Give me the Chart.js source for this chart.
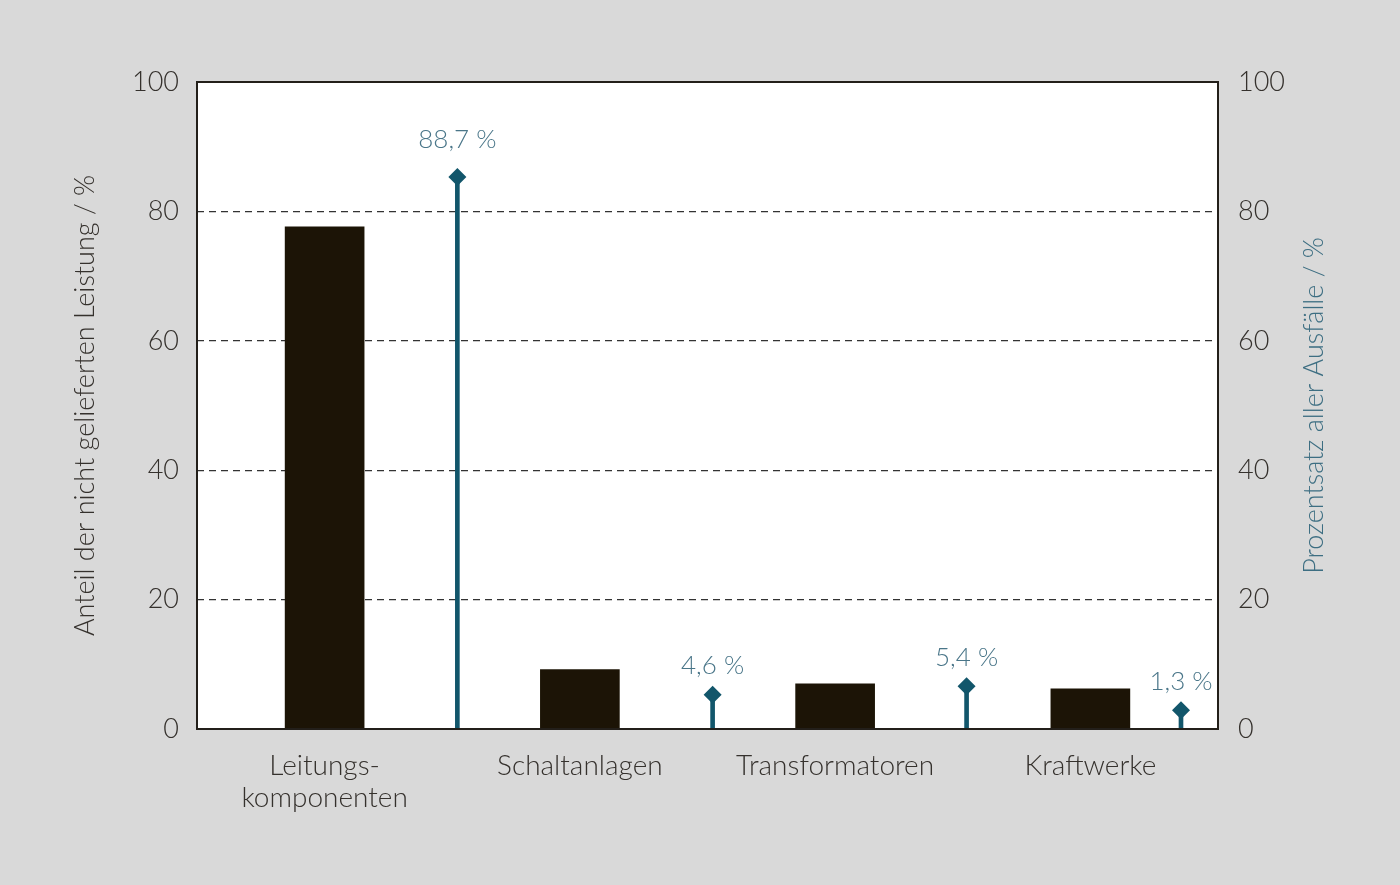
<!DOCTYPE html>
<html>
<head>
<meta charset="utf-8">
<script src="https://cdn.jsdelivr.net/npm/chart.js@4.4.1/dist/chart.umd.min.js"></script>
<style>
  html, body { margin: 0; padding: 0; background: #d9d9d9; }
  #wrap { width: 1400px; height: 885px; position: relative; }
</style>
</head>
<body>
<div id="wrap"><canvas id="c"></canvas></div>
<script>
// ---- data ----
const categories = [['Leitungs-', 'komponenten'], 'Schaltanlagen', 'Transformatoren', 'Kraftwerke'];
const powerShare = [77.6, 9.2, 7.0, 6.2];          // Anteil der nicht gelieferten Leistung / %
const outageShare = [85.3, 5.3, 6.6, 2.9];         // Prozentsatz aller Ausfälle / % (marker heights)
const outageLabels = ['88,7 %', '4,6 %', '5,4 %', '1,3 %'];
const yTicks = [0, 20, 40, 60, 80, 100];

// ---- layout / style constants ----
const stemShift = [0.52, 0.52, 0.515, 0.355];   // marker offset from category centre (category units)
const labelLift = [37, 29, 29, 29];
const FONT = 'Lato';
const TEAL = '#12566b';
const TEAL_TXT = '#4a7689';
const TXT = '#35312d';

const stemPoints = outageShare.map((v, i) => ({ x: i + 0.5 + stemShift[i], y: v }));

const framePlugin = {
  id: 'frame',
  beforeDraw(chart) {
    const { ctx, chartArea: a } = chart;
    ctx.save();
    ctx.fillStyle = '#ffffff';
    ctx.fillRect(a.left, a.top, a.right - a.left, a.bottom - a.top);
    ctx.restore();
  },
  afterDatasetsDraw(chart) {
    const { ctx, chartArea: a } = chart;
    ctx.save();
    ctx.strokeStyle = '#231f1a';
    ctx.lineWidth = 2;
    ctx.strokeRect(a.left, a.top, a.right - a.left, a.bottom - a.top);
    const meta = chart.getDatasetMeta(2);
    ctx.fillStyle = TEAL_TXT;
    ctx.font = '300 26px ' + FONT;
    ctx.textAlign = 'center';
    ctx.textBaseline = 'middle';
    meta.data.forEach((el, i) => {
      ctx.fillText(outageLabels[i], el.x, el.y - labelLift[i]);
    });
    ctx.translate(1314, (a.top + a.bottom) / 2);
    ctx.rotate(-Math.PI / 2);
    ctx.fillStyle = '#3d6e82';
    ctx.font = '300 27px ' + FONT;
    ctx.fillText('Prozentsatz aller Ausfälle / %', 0, 0);
    ctx.restore();
  }
};

new Chart(document.getElementById('c'), {
  type: 'bar',
  data: {
    labels: categories,
    datasets: [
      {
        label: 'Anteil der nicht gelieferten Leistung',
        data: powerShare,
        backgroundColor: '#1c1406',
        borderWidth: 0,
        barThickness: 79,
        grouped: false,
        xAxisID: 'x',
        yAxisID: 'y',
        order: 2
      },
      {
        label: 'stems',
        data: stemPoints,
        backgroundColor: TEAL,
        borderWidth: 0,
        barThickness: 4,
        grouped: false,
        xAxisID: 'xL',
        yAxisID: 'y2',
        order: 1
      },
      {
        type: 'scatter',
        label: 'Prozentsatz aller Ausfälle',
        data: stemPoints,
        pointStyle: 'rectRot',
        pointRadius: 9,
        pointHoverRadius: 9,
        backgroundColor: TEAL,
        borderColor: TEAL,
        borderWidth: 0,
        xAxisID: 'xL',
        yAxisID: 'y2',
        order: 0
      }
    ]
  },
  options: {
    responsive: true,
    maintainAspectRatio: false,
    animation: false,
    layout: { padding: { top: 82, left: 0, right: 0, bottom: 0 } },
    plugins: {
      legend: { display: false },
      tooltip: { enabled: false }
    },
    scales: {
      x: {
        type: 'category',
        offset: true,
        grid: { display: false, drawTicks: false },
        border: { display: false },
        ticks: {
          color: TXT,
          font: { family: FONT, size: 28, weight: '300', lineHeight: 1.15 },
          padding: 21,
          maxRotation: 0,
          autoSkip: false
        },
        afterFit(s) { s.height = 156; }
      },
      xL: {
        type: 'linear',
        display: false,
        offset: false,
        min: 0,
        max: 4
      },
      y: {
        position: 'left',
        min: 0,
        max: 100,
        afterBuildTicks(s) { s.ticks = yTicks.map(v => ({ value: v })); },
        grid: {
          drawTicks: false,
          color: ctx => (ctx.tick && (ctx.tick.value === 0 || ctx.tick.value === 100)) ? 'rgba(0,0,0,0)' : '#333333',
          lineWidth: 1.3
        },
        border: { display: false, dash: [7, 5] },
        ticks: {
          color: TXT,
          font: { family: FONT, size: 27, weight: '300' },
          padding: 18
        },
        title: {
          display: true,
          text: 'Anteil der nicht gelieferten Leistung / %',
          color: TXT,
          font: { family: FONT, size: 27, weight: '300' },
          padding: { top: 69, bottom: 0 }
        },
        afterFit(s) { s.width = 197; }
      },
      y2: {
        position: 'right',
        min: 0,
        max: 100,
        afterBuildTicks(s) { s.ticks = yTicks.map(v => ({ value: v })); },
        grid: { display: false, drawTicks: false },
        border: { display: false },
        ticks: {
          color: TXT,
          font: { family: FONT, size: 27, weight: '300' },
          padding: 20
        },
        afterFit(s) { s.width = 182; }
      }
    }
  },
  plugins: [framePlugin]
});
</script>
</body>
</html>
